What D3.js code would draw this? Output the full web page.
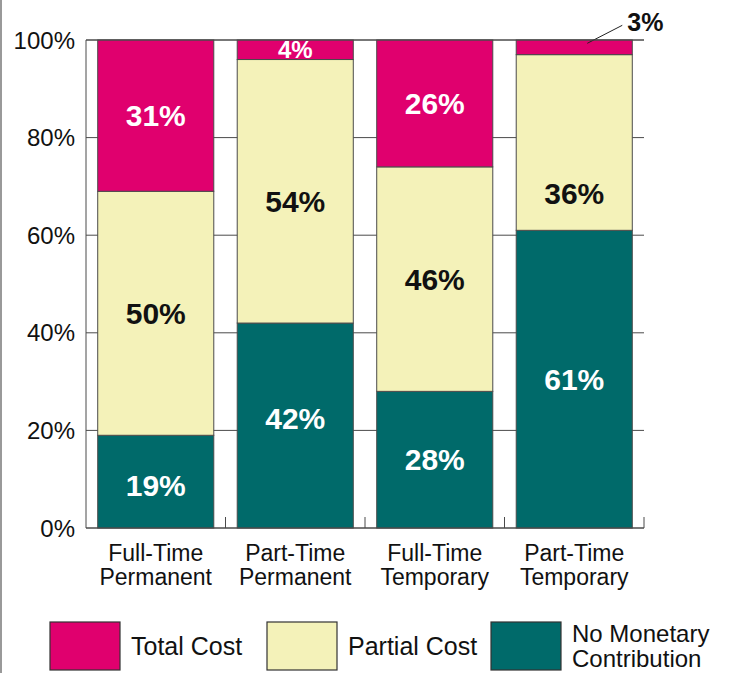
<!DOCTYPE html>
<html>
<head>
<meta charset="utf-8">
<script src="https://cdn.jsdelivr.net/npm/d3@7/dist/d3.min.js"></script>
<style>
  html, body { margin: 0; padding: 0; background: #fff; }
  svg { display: block; font-family: "Liberation Sans", Arial, Helvetica, sans-serif; }
</style>
</head>
<body>
<svg id="chart" width="730" height="673"></svg>
<script>
// Employment types (two-line labels)
const categories = ["Full-Time Permanent", "Part-Time Permanent", "Full-Time Temporary", "Part-Time Temporary"];
const categoryLines = [["Full-Time", "Permanent"], ["Part-Time", "Permanent"], ["Full-Time", "Temporary"], ["Part-Time", "Temporary"]];

// Share of employees by cost-sharing arrangement (%), bottom to top
const seriesNames = ["No Monetary Contribution", "Partial Cost", "Total Cost"];
const noMonetary = [19, 42, 28, 61];
const partialCost = [50, 54, 46, 36];
const totalCost = [31, 4, 26, 3];

const yTicks = [0, 20, 40, 60, 80, 100];
const yTickLabels = ["0%", "20%", "40%", "60%", "80%", "100%"];

const colors = {
  "Total Cost": "#e0006e",
  "Partial Cost": "#f4f2b9",
  "No Monetary Contribution": "#006a6a"
};
const labelColors = {
  "Total Cost": "#fff",
  "Partial Cost": "#111",
  "No Monetary Contribution": "#fff"
};

const rows = categories.map((c, i) => ({
  category: c,
  "No Monetary Contribution": noMonetary[i],
  "Partial Cost": partialCost[i],
  "Total Cost": totalCost[i]
}));

const svg = d3.select("#chart");
const plotLeft = 86, plotRight = 644, plotTop = 40, plotBottom = 528;

const x = d3.scaleBand().domain(categories).range([plotLeft, plotRight])
  .paddingInner(0.168).paddingOuter(0.084);
const y = d3.scaleLinear().domain([0, 100]).range([plotBottom, plotTop]);

const stack = d3.stack().keys(seriesNames);
const layers = stack(rows);

const lineColor = "#4a4a4a";

// frame line along the left edge of the page
svg.append("line").attr("x1", 1).attr("x2", 1).attr("y1", 0).attr("y2", 673)
  .attr("stroke", "#777").attr("stroke-width", 1.5);

// horizontal gridlines behind the bars
svg.append("g").selectAll("line").data(yTicks).join("line")
  .attr("x1", plotLeft).attr("x2", plotRight)
  .attr("y1", d => y(d)).attr("y2", d => y(d))
  .attr("stroke", lineColor).attr("stroke-width", 1);

// left axis line and tick labels
svg.append("line").attr("x1", plotLeft).attr("x2", plotLeft).attr("y1", y(100)).attr("y2", y(0))
  .attr("stroke", lineColor).attr("stroke-width", 1);
svg.append("g").selectAll("text").data(yTicks).join("text")
  .attr("x", 75).attr("y", d => y(d)).attr("dy", "0.36em")
  .attr("text-anchor", "end").attr("font-size", 24).attr("fill", "#111")
  .text((d, i) => yTickLabels[i]);

// small ticks on the baseline between categories
const step = x.step();
svg.append("g").selectAll("line").data(categories.map((c, i) => plotLeft + step * (i + 1)))
  .join("line")
  .attr("x1", d => d).attr("x2", d => d)
  .attr("y1", plotBottom).attr("y2", plotBottom - 11)
  .attr("stroke", lineColor).attr("stroke-width", 1);

// stacked segments
const g = svg.append("g");
layers.forEach(layer => {
  g.selectAll(null).data(layer).join("rect")
    .attr("x", d => x(d.data.category))
    .attr("width", x.bandwidth())
    .attr("y", d => y(d[1]))
    .attr("height", d => y(d[0]) - y(d[1]))
    .attr("fill", colors[layer.key])
    .attr("stroke", lineColor).attr("stroke-width", 1);
});

// small vertical adjustments for a few segment labels
const nudge = {
  "Part-Time Permanent|Partial Cost": 10,
  "Part-Time Temporary|Partial Cost": 51,
  "Part-Time Permanent|No Monetary Contribution": -7,
  "Full-Time Permanent|No Monetary Contribution": 4
};

// segment value labels
layers.forEach(layer => {
  layer.forEach(d => {
    const v = d[1] - d[0];
    const cx = x(d.data.category) + x.bandwidth() / 2;
    const cy = (y(d[0]) + y(d[1])) / 2 + (nudge[d.data.category + "|" + layer.key] || 0);
    if (v >= 10) {
      svg.append("text").attr("x", cx).attr("y", cy).attr("dy", "0.36em")
        .attr("text-anchor", "middle").attr("font-size", 30).attr("font-weight", "bold")
        .attr("fill", labelColors[layer.key]).text(v + "%");
    } else if (v >= 4) {
      svg.append("text").attr("x", cx).attr("y", cy).attr("dy", "0.36em")
        .attr("text-anchor", "middle").attr("font-size", 24).attr("font-weight", "bold")
        .attr("fill", labelColors[layer.key]).text(v + "%");
    } else {
      // too thin to hold its label: place it above the bar with a leader line
      svg.append("line").attr("x1", cx + 13).attr("y1", cy - 4).attr("x2", cx + 48).attr("y2", cy - 22)
        .attr("stroke", "#222").attr("stroke-width", 1);
      svg.append("text").attr("x", cx + 53).attr("y", cy - 16)
        .attr("text-anchor", "start").attr("font-size", 25).attr("font-weight", "bold")
        .attr("fill", "#111").text(v + "%");
    }
  });
});

// top and bottom frame lines drawn over the bars
[100, 0].forEach(v => {
  svg.append("line").attr("x1", plotLeft).attr("x2", plotRight).attr("y1", y(v)).attr("y2", y(v))
    .attr("stroke", lineColor).attr("stroke-width", 1);
});

// category labels
svg.append("g").selectAll("text").data(categories).join("text")
  .attr("x", d => x(d) + x.bandwidth() / 2)
  .attr("y", 561)
  .attr("text-anchor", "middle").attr("font-size", 23).attr("fill", "#111")
  .each(function(d, i) {
    d3.select(this).selectAll("tspan").data(categoryLines[i]).join("tspan")
      .attr("x", x(d) + x.bandwidth() / 2)
      .attr("dy", (t, j) => j === 0 ? 0 : 24)
      .text(t => t);
  });

// legend
const legendItems = [
  { key: "Total Cost", lines: ["Total Cost"], bx: 50 },
  { key: "Partial Cost", lines: ["Partial Cost"], bx: 267 },
  { key: "No Monetary Contribution", lines: ["No Monetary", "Contribution"], bx: 491 }
];
const lg = svg.append("g");
legendItems.forEach(it => {
  lg.append("rect").attr("x", it.bx).attr("y", 622).attr("width", 70).attr("height", 48)
    .attr("fill", colors[it.key]).attr("stroke", "#333").attr("stroke-width", 1.2);
  const t = lg.append("text").attr("x", it.bx + 81).attr("fill", "#111");
  if (it.lines.length === 1) {
    t.attr("y", 655).attr("font-size", 25).text(it.lines[0]);
  } else {
    t.attr("y", 642).attr("font-size", 24);
    t.selectAll("tspan").data(it.lines).join("tspan")
      .attr("x", it.bx + 81).attr("dy", (s, j) => j === 0 ? 0 : 25).text(s => s);
  }
});
</script>
</body>
</html>
